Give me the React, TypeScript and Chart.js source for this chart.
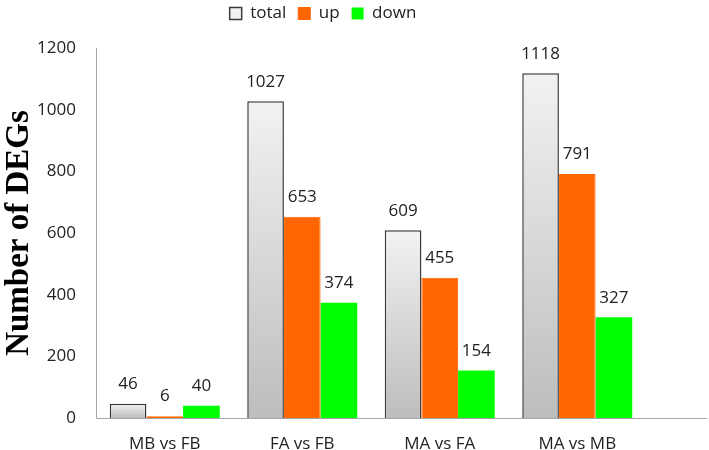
import React, { useEffect, useRef } from "react";
import { Chart, registerables } from "chart.js";

Chart.register(...registerables);

const categories = ["MB vs FB", "FA vs FB", "MA vs FA", "MA vs MB"];
const totalValues = [46, 1027, 609, 1118];
const upValues = [6, 653, 455, 791];
const downValues = [40, 374, 154, 327];
const yTicks = [0, 200, 400, 600, 800, 1000, 1200];

const FONT = "'Open Sans', 'Noto Sans', sans-serif";

const dataLabelPlugin = {
  id: "dataLabels",
  afterDatasetsDraw(chart: any) {
    const ctx = chart.ctx;
    ctx.save();
    ctx.font = `17px ${FONT}`;
    ctx.fillStyle = "#222222";
    ctx.textAlign = "center";
    ctx.textBaseline = "bottom";
    chart.data.datasets.forEach((ds: any, di: number) => {
      const meta = chart.getDatasetMeta(di);
      meta.data.forEach((bar: any, i: number) => {
        ctx.fillText(String(ds.data[i]), bar.x, bar.y - 11);
      });
    });
    ctx.restore();
  },
};

const axisLinePlugin = {
  id: "axisLines",
  beforeLayout(chart: any) {
    const lg = chart.legend;
    if (lg && !lg._extraSpace) {
      const orig = lg.fit.bind(lg);
      lg.fit = function () {
        orig();
        this.height += 16;
      };
      lg._extraSpace = true;
    }
  },
  afterDraw(chart: any) {
    const { ctx, chartArea } = chart;
    ctx.save();
    ctx.strokeStyle = "#a6a6a6";
    ctx.lineWidth = 1;
    ctx.beginPath();
    ctx.moveTo(chartArea.left + 0.5, chartArea.top);
    ctx.lineTo(chartArea.left + 0.5, chartArea.bottom + 0.5);
    ctx.lineTo(chart.width - 2, chartArea.bottom + 0.5);
    ctx.stroke();
    ctx.restore();
  },
};

export default function App() {
  const canvasRef = useRef<HTMLCanvasElement | null>(null);

  useEffect(() => {
    document.body.style.margin = "0";
    const canvas = canvasRef.current;
    if (!canvas) return;
    const totalBg = (c: any) => {
      const chart = c.chart;
      const y = chart.scales && chart.scales.y;
      if (!y || c.type !== "data" || !chart.chartArea) return "#dcdcdc";
      const top = y.getPixelForValue(c.raw);
      const bottom = y.getPixelForValue(0);
      if (!isFinite(top) || !isFinite(bottom) || top === bottom) return "#dcdcdc";
      const g = chart.ctx.createLinearGradient(0, top, 0, bottom);
      g.addColorStop(0, "#f2f2f2");
      g.addColorStop(1, "#bdbdbd");
      return g;
    };
    const chart = new Chart(canvas, {
      type: "bar",
      data: {
        labels: categories,
        datasets: [
          {
            label: "total",
            data: totalValues,
            backgroundColor: totalBg,
            borderColor: "#3a3a3a",
            borderWidth: 1.5,
          },
          {
            label: "up",
            data: upValues,
            backgroundColor: "#ff6600",
            borderColor: "#ff6600",
            borderWidth: 1,
          },
          {
            label: "down",
            data: downValues,
            backgroundColor: "#00ff00",
            borderColor: "#00ff00",
            borderWidth: 0,
          },
        ],
      },
      options: {
        animation: false,
        responsive: false,
        maintainAspectRatio: false,
        layout: { padding: { left: 0, right: 63, top: -7, bottom: 0 } },
        datasets: {
          bar: { categoryPercentage: 0.8, barPercentage: 1.0 },
        },
        plugins: {
          tooltip: { enabled: false },
          legend: {
            position: "top",
            labels: {
              font: { family: FONT, size: 17 },
              color: "#222222",
              boxWidth: 12,
              boxHeight: 12,
              padding: 12,
            },
          },
        },
        scales: {
          x: {
            grid: { display: false, drawTicks: false },
            border: { display: false },
            ticks: {
              font: { family: FONT, size: 17 },
              color: "#222222",
              padding: 16,
            },
            afterFit(scale: any) {
              scale.height = 32;
            },
          },
          y: {
            min: 0,
            max: 1200,
            afterBuildTicks(scale: any) {
              scale.ticks = yTicks.map((v) => ({ value: v }));
            },
            grid: { display: false, drawTicks: false },
            border: { display: false },
            ticks: {
              font: { family: FONT, size: 17 },
              color: "#222222",
              padding: 20,
              callback: (v: any) => String(v),
            },
            title: {
              display: true,
              text: "Number of DEGs",
              font: { family: "'Liberation Serif', 'Times New Roman', serif", size: 33, weight: "bold" },
              color: "#000000",
              padding: 0,
            },
            afterFit(scale: any) {
              scale.width = 96;
            },
          },
        },
      },
      plugins: [dataLabelPlugin, axisLinePlugin],
    });
    return () => chart.destroy();
  }, []);

  return (
    <div style={{ width: 709, height: 450 }}>
      <canvas ref={canvasRef} width={709} height={450} style={{ display: "block" }} />
    </div>
  );
}
